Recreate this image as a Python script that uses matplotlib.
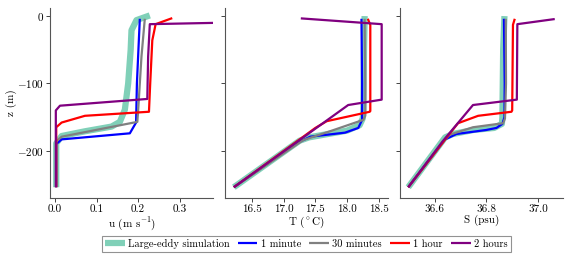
import numpy as np
import matplotlib
matplotlib.use("Agg")
import matplotlib.pyplot as plt

plt.rcParams["font.family"] = "serif"
plt.rcParams["font.serif"] = ["cmr10"]
plt.rcParams["mathtext.fontset"] = "cm"
plt.rcParams["axes.formatter.use_mathtext"] = True
plt.rcParams["font.size"] = 8

# velocity panel
u_les = [0.228, 0.196, 0.184, 0.182, 0.176, 0.168, 0.156, 0.136, 0.072, 0.016, 0.003, 0.003]
z_u_les = [1, -6, -21, -50, -100, -139, -157, -164, -171, -178, -189, -254]
u_1min = [0.204, 0.197, 0.195, 0.180, 0.016, 0.003, 0.003]
z_u_1min = [-4, -100, -158, -174, -183, -190, -254]
u_30min = [0.216, 0.208, 0.200, 0.198, 0.016, 0.003, 0.003]
z_u_30min = [-4, -60, -140, -157, -179, -186, -254]
u_1h = [0.282, 0.242, 0.234, 0.229, 0.226, 0.072, 0.016, 0.003, 0.003]
z_u_1h = [-3, -12, -36, -100, -142, -148, -158, -165, -254]
u_2h = [0.95, 0.228, 0.224, 0.222, 0.012, 0.002, 0.002]
z_u_2h = [-3, -12, -60, -123, -133, -140, -254]

# temperature panel
T_les = [18.28, 18.27, 18.26, 18.25, 18.20, 18.00, 17.70, 17.40, 17.25, 16.21]
z_T_les = [0, -50, -140, -152, -162, -170, -175, -180, -185, -254]
T_1min = [18.23, 18.24, 18.24, 18.18, 17.97, 17.42, 17.20, 16.21]
z_T_1min = [-4, -100, -154, -166, -173, -179, -189, -254]
T_30min = [18.28, 18.29, 18.29, 18.26, 17.73, 17.31, 16.21]
z_T_30min = [-4, -100, -148, -154, -171, -184, -254]
T_1h = [18.33, 18.37, 18.37, 18.36, 17.68, 17.50, 16.21]
z_T_1h = [-4, -13, -141, -142, -156, -166, -254]
T_2h = [17.27, 18.55, 18.55, 18.02, 17.25, 16.21]
z_T_2h = [-3.4, -12, -124, -132, -184, -254]

# salinity panel
S_les = [36.870, 36.865, 36.862, 36.860, 36.830, 36.750, 36.670, 36.640, 36.497]
z_S_les = [0, -50, -150, -160, -166, -169, -175, -180, -254]
S_1min = [36.868, 36.871, 36.870, 36.862, 36.839, 36.800, 36.684, 36.640, 36.497]
z_S_1min = [-4, -100, -150, -160, -166, -169, -175, -183, -254]
S_30min = [36.875, 36.876, 36.872, 36.865, 36.748, 36.658, 36.640, 36.497]
z_S_30min = [-4, -100, -152, -159, -165, -176, -183, -254]
S_1h = [36.910, 36.903, 36.900, 36.897, 36.768, 36.690, 36.640, 36.497]
z_S_1h = [-4, -13, -140, -142, -148, -159, -183, -254]
S_2h = [37.065, 36.920, 36.918, 36.748, 36.630, 36.497]
z_S_2h = [-4.4, -12, -124, -132, -186, -254]

labels = ["Large-eddy simulation", "1 minute", "30 minutes", "1 hour", "2 hours"]
colors = ["#80d0b8", "blue", "gray", "red", "purple"]
widths = [4.5, 1.6, 1.6, 1.6, 1.6]

panels = [
    ([u_les, u_1min, u_30min, u_1h, u_2h], [z_u_les, z_u_1min, z_u_30min, z_u_1h, z_u_2h]),
    ([T_les, T_1min, T_30min, T_1h, T_2h], [z_T_les, z_T_1min, z_T_30min, z_T_1h, z_T_2h]),
    ([S_les, S_1min, S_30min, S_1h, S_2h], [z_S_les, z_S_1min, z_S_30min, z_S_1h, z_S_2h]),
]
xlabels = [r"u (m s$^{-1}$)", r"T ($^\circ$C)", "S (psu)"]
xlims = [(-0.012, 0.38), (16.07, 18.65), (36.465, 37.097)]
xticks = [[0.0, 0.1, 0.2, 0.3], [16.5, 17.0, 17.5, 18.0, 18.5], [36.6, 36.8, 37.0]]
xticklabels = [["0.0", "0.1", "0.2", "0.3"],
               ["16.5", "17.0", "17.5", "18.0", "18.5"],
               ["36.6", "36.8", "37.0"]]
lefts = [50 / 571, 225 / 571, 400 / 571]

fig = plt.figure(figsize=(5.71, 2.6), dpi=100)
handles = []
for i, (xs, zs) in enumerate(panels):
    ax = fig.add_axes([lefts[i], 1 - 198 / 260, 163 / 571, 190 / 260])
    for j in range(5):
        ln, = ax.plot(xs[j], zs[j], color=colors[j], lw=widths[j],
                      solid_capstyle="butt", label=labels[j])
        if i == 0:
            handles.append(ln)
    ax.set_xlim(*xlims[i])
    ax.set_ylim(-270, 12)
    ax.set_xticks(xticks[i])
    ax.set_xticklabels(xticklabels[i])
    ax.set_yticks([0, -100, -200])
    ax.set_xlabel(xlabels[i], labelpad=1)
    for s in ["top", "right"]:
        ax.spines[s].set_visible(False)
    for s in ["left", "bottom"]:
        ax.spines[s].set_color("#555555")
        ax.spines[s].set_linewidth(0.8)
    ax.tick_params(direction="out", length=3, width=0.7, color="#444444", pad=1.5)
    if i == 0:
        ax.set_ylabel("z (m)")
        ax.yaxis.set_label_coords(-0.20, 0.5)
    else:
        ax.tick_params(labelleft=False)

leg = fig.legend(handles, labels, loc="center", bbox_to_anchor=(0.536, 0.062),
                 ncol=5, frameon=True, fancybox=False, handlelength=1.9,
                 handletextpad=0.3, columnspacing=0.8, borderpad=0.3,
                 fontsize=7.5)
leg.get_frame().set_edgecolor("#777777")
leg.get_frame().set_linewidth(0.8)

fig.savefig("out.png", dpi=100)
